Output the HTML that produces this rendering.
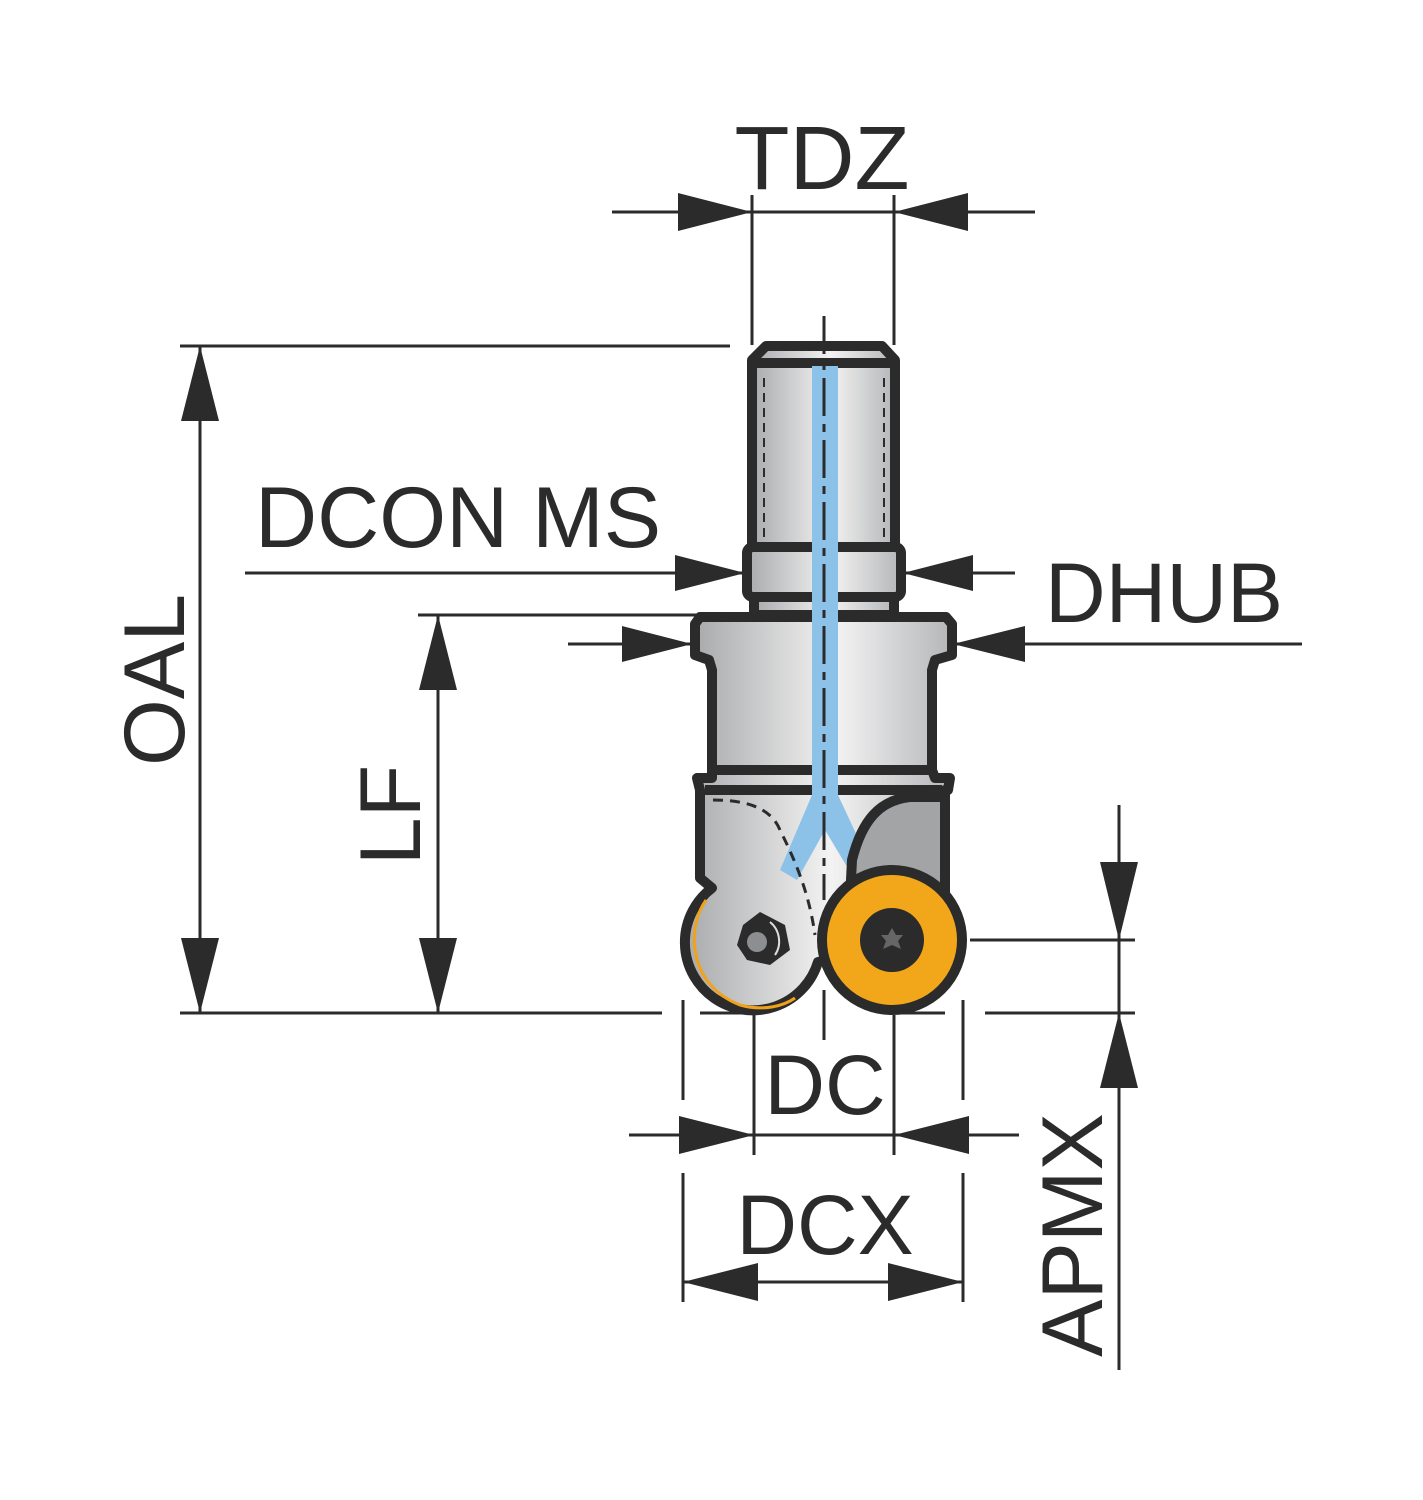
<!DOCTYPE html>
<html><head><meta charset="utf-8"><style>
html,body{margin:0;padding:0;background:#fff;}
svg{display:block;}
text{font-family:"Liberation Sans",Arial,sans-serif;fill:#2b2b2b;font-size:86px;}
</style></head><body>
<svg width="1423" height="1500" viewBox="0 0 1423 1500" xmlns="http://www.w3.org/2000/svg">
<defs>
<linearGradient id="g" x1="0" x2="1" y1="0" y2="0">
<stop offset="0" stop-color="#a9aaac"/><stop offset="0.55" stop-color="#f3f3f3"/><stop offset="1" stop-color="#b5b6b8"/>
</linearGradient>
</defs>
<g stroke="#2b2b2b" stroke-width="3" fill="none">
<line x1="612" y1="212" x2="1035" y2="212"/>
<line x1="752" y1="195" x2="752" y2="345"/>
<line x1="894" y1="195" x2="894" y2="345"/>
<line x1="180" y1="346" x2="730" y2="346"/>
<line x1="180" y1="1013" x2="662" y2="1013"/>
<line x1="200" y1="346" x2="200" y2="1013"/>
<line x1="245" y1="573" x2="745" y2="573"/>
<line x1="903" y1="573" x2="1015" y2="573"/>
<line x1="568" y1="644" x2="692" y2="644"/>
<line x1="953" y1="644" x2="1302" y2="644"/>
<line x1="418" y1="615" x2="700" y2="615"/>
<line x1="438" y1="615" x2="438" y2="1013"/>
<line x1="700" y1="1013" x2="760" y2="1013"/>
<line x1="900" y1="1013" x2="945" y2="1013"/>
<line x1="985" y1="1013" x2="1135" y2="1013"/>
<line x1="970" y1="940" x2="1135" y2="940"/>
<line x1="1119" y1="805" x2="1119" y2="1370"/>
<line x1="683" y1="1000" x2="683" y2="1100"/>
<line x1="963" y1="1000" x2="963" y2="1100"/>
<line x1="754" y1="1015" x2="754" y2="1155"/>
<line x1="894" y1="1015" x2="894" y2="1155"/>
<line x1="824" y1="990" x2="824" y2="1040"/>
<line x1="629" y1="1135" x2="1019" y2="1135"/>
<line x1="683" y1="1173" x2="683" y2="1302"/>
<line x1="963" y1="1173" x2="963" y2="1302"/>
<line x1="683" y1="1282" x2="963" y2="1282"/>
</g>
<g fill="#2b2b2b">
<polygon points="752,212 678,193 678,231"/>
<polygon points="894,212 968,193 968,231"/>
<polygon points="200,346 181,421 219,421"/>
<polygon points="200,1013 181,938 219,938"/>
<polygon points="745,573 675,555 675,591"/>
<polygon points="903,573 973,555 973,591"/>
<polygon points="692,644 622,626 622,662"/>
<polygon points="953,644 1025,626 1025,662"/>
<polygon points="438,615 419,690 457,690"/>
<polygon points="438,1013 419,938 457,938"/>
<polygon points="1119,940 1100,862 1138,862"/>
<polygon points="1119,1013 1100,1088 1138,1088"/>
<polygon points="754,1135 679,1116 679,1154"/>
<polygon points="894,1135 969,1116 969,1154"/>
<polygon points="683,1282 758,1263 758,1301"/>
<polygon points="963,1282 888,1263 888,1301"/>
</g>
<g stroke="#2b2b2b" stroke-width="10" stroke-linejoin="round">
<path d="M766,346 L882,346 L895,360 L895,572 L752,572 L752,360 Z" fill="url(#g)"/>
<line x1="754" y1="363" x2="893" y2="363"/>
<rect x="747" y="547" width="154" height="50" rx="6" fill="url(#g)"/>
<rect x="754" y="597" width="140" height="18" fill="url(#g)"/>
<path d="M700,617 L946,617 L952,624 L952,655 L935,660 L932,670 L932,770 L712,770 L712,670 L709,660 L695,655 L695,624 Z" fill="url(#g)"/>
<path d="M712,770 L932,770 L935,778 L950,778 L948,790 L945,790 L945,935 L818,962 A68,68 0 1 1 712,888 L700,878 L700,790 L697,778 L712,778 Z" fill="url(#g)"/>
<line x1="705" y1="790" x2="942" y2="790"/>
</g>
<rect x="812" y="366" width="26" height="432" fill="#8cc2e8"/>
<polygon points="812,795 838,795 873,870 855,880 825,830 797,880 780,870" fill="#8cc2e8"/>
<path d="M945,797 L910,797 C880,800 862,820 852,860 L850,900 L945,900 Z" fill="#a3a4a6" stroke="#2b2b2b" stroke-width="10"/>
<path d="M706,900 C686,928 688,985 740,1005 C765,1012 785,1005 795,998" fill="none" stroke="#f0a21a" stroke-width="3"/>
<path d="M713,800 C740,800 770,805 780,830 C800,870 810,900 815,935" fill="none" stroke="#2b2b2b" stroke-width="3" stroke-dasharray="10,7"/>
<polygon points="743,925 760,912 785,925 790,950 770,965 747,960 737,945" fill="#2b2b2b"/>
<circle cx="757" cy="942" r="10" fill="#8d8e90"/>
<path d="M770,922 C780,930 782,945 775,955" stroke="#ddd" stroke-width="2" fill="none"/>
<circle cx="892" cy="940" r="70" fill="#f2a71b" stroke="#2b2b2b" stroke-width="10"/>
<circle cx="892" cy="940" r="32" fill="#2b2b2b"/>
<polygon points="892,928 896,935 903,935 898,941 901,949 892,945 883,949 886,941 881,935 888,935" fill="#666"/>
<line x1="824" y1="316" x2="824" y2="900" stroke="#2b2b2b" stroke-width="3" stroke-dasharray="38,8,8,8"/>
<line x1="764" y1="378" x2="764" y2="540" stroke="#2b2b2b" stroke-width="2" stroke-dasharray="9,6"/>
<line x1="884" y1="378" x2="884" y2="540" stroke="#2b2b2b" stroke-width="2" stroke-dasharray="9,6"/>
<text x="822" y="189" text-anchor="middle" style="font-size:90px">TDZ</text>
<text x="255" y="547">DCON MS</text>
<text x="1045" y="622" style="font-size:84px">DHUB</text>
<text x="825" y="1114" text-anchor="middle" style="font-size:84px">DC</text>
<text x="825" y="1254" text-anchor="middle" style="font-size:84px">DCX</text>
<text transform="translate(184,680) rotate(-90)" text-anchor="middle">OAL</text>
<text transform="translate(420,815) rotate(-90)" text-anchor="middle">LF</text>
<text transform="translate(1102,1235) rotate(-90)" text-anchor="middle">APMX</text>
</svg>
</body></html>
